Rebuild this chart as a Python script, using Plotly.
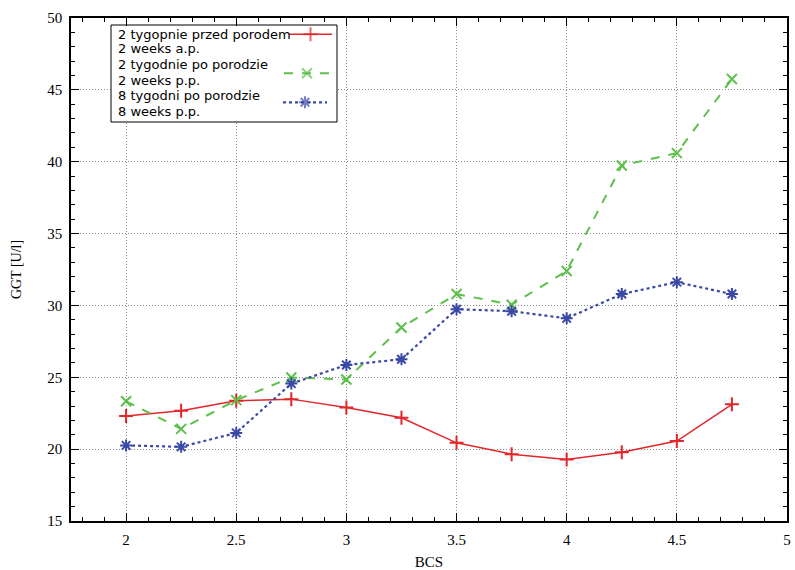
import plotly.graph_objects as go

# ---- data ----
bcs = [2, 2.25, 2.5, 2.75, 3, 3.25, 3.5, 3.75, 4, 4.25, 4.5, 4.75]
ggt_2w_ap = [22.3, 22.67, 23.36, 23.48, 22.9, 22.18, 20.44, 19.65, 19.28, 19.79, 20.56, 23.12]
ggt_2w_pp = [23.33, 21.41, 23.41, 24.99, 24.85, 28.47, 30.79, 30.05, 32.4, 39.74, 40.6, 45.76]
ggt_8w_pp = [20.26, 20.16, 21.13, 24.56, 25.86, 26.25, 29.74, 29.6, 29.1, 30.79, 31.62, 30.79]

labels = [
    ["2 tygopnie przed porodem", "2 weeks a.p."],
    ["2 tygodnie po porodzie", "2 weeks p.p."],
    ["8 tygodni po porodzie", "8 weeks p.p."],
]

RED = "#e3262b"
GREEN = "#5cc04a"
BLUE = "#3a48a6"

W, H = 795, 570
ML, MR, MT, MB = 71, 8, 18, 49
PW, PH = W - ML - MR, H - MT - MB


def px(x):
    return (x - ML) / PW


def py(y):
    return (H - MB - y) / PH


series = [
    (ggt_2w_ap, RED, "solid", "cross-thin-open", 10, 1.5),
    (ggt_2w_pp, GREEN, "dash", "x-thin-open", 10, 2.0),
    (ggt_8w_pp, BLUE, "dot", "asterisk-open", 10, 2.2),
]

fig = go.Figure()
for vals, col, dash, sym, ms, lw in series:
    fig.add_trace(go.Scatter(
        x=bcs, y=vals, mode="lines+markers",
        line=dict(color=col, width=lw, dash=dash),
        marker=dict(symbol=sym, size=ms, color=col, line=dict(color=col, width=2)),
        showlegend=False, cliponaxis=False,
    ))

# ---- custom legend (gnuplot style: text left, sample right), in an overlay subplot ----
bx0, bx1, by0, by1 = px(111), px(337), py(122), py(25)
fig.add_trace(go.Scatter(
    x=[bx0, bx1, bx1, bx0, bx0], y=[by0, by0, by1, by1, by0],
    xaxis="x2", yaxis="y2", mode="lines", fill="toself", fillcolor="white",
    line=dict(color="black", width=1), showlegend=False, hoverinfo="skip",
))

line_ys = [34.3, 48.6, 65, 80.3, 96, 111.5]
flat = [t for pair in labels for t in pair]
for t, yy in zip(flat, line_ys):
    fig.add_annotation(x=px(116), y=py(yy), xref="paper", yref="paper",
                       text=t, showarrow=False, xanchor="left", yanchor="middle",
                       font=dict(family="DejaVu Sans", size=13, color="black"))

sample_rows = [(289, 332, 34.3), (284, 330, 73.3), (283, 327, 102.3)]
for (vals, col, dash, sym, ms, lw), (xa, xb, yy) in zip(series, sample_rows):
    fig.add_trace(go.Scatter(
        x=[px(xa), px((xa + xb) / 2), px(xb)], y=[py(yy)] * 3,
        xaxis="x2", yaxis="y2", mode="lines+markers",
        line=dict(color=col, width=lw, dash=dash),
        marker=dict(symbol=sym, size=[0, ms, 0], color=col, line=dict(color=col, width=2)),
        showlegend=False, cliponaxis=False, hoverinfo="skip",
    ))

axis_common = dict(
    showline=True, linecolor="black", linewidth=1.5, mirror="ticks",
    ticks="inside", ticklen=8, tickwidth=1.3, tickcolor="black",
    showgrid=True, gridcolor="#8a8a8a", gridwidth=1, griddash="1px,2px",
    zeroline=False, automargin=False,
    tickfont=dict(family="Liberation Serif", size=15, color="black"),
)

fig.update_layout(
    width=W, height=H,
    margin=dict(l=ML, r=MR, t=MT, b=MB),
    paper_bgcolor="white", plot_bgcolor="white",
    xaxis=dict(range=[1.75, 5], tick0=0, dtick=0.5, ticklabelstandoff=4, **axis_common,
               minor=dict(ticks="inside", ticklen=4, dtick=0.1, tick0=0,
                          tickcolor="black", tickwidth=1.2, showgrid=False),
               title=dict(text="BCS", standoff=12,
                          font=dict(family="Liberation Serif", size=15, color="black"))),
    yaxis=dict(range=[15, 50], tick0=0, dtick=5, ticklabelstandoff=4, **axis_common,
               minor=dict(ticks="inside", ticklen=4, dtick=1, tick0=0,
                          tickcolor="black", tickwidth=1.2, showgrid=False),
               title=dict(text="GGT [U/l]", standoff=22,
                          font=dict(family="Liberation Serif", size=14, color="black"))),
    xaxis2=dict(range=[0, 1], overlaying="x", anchor="y2", visible=False, fixedrange=True),
    yaxis2=dict(range=[0, 1], overlaying="y", anchor="x2", visible=False, fixedrange=True),
)

fig.write_html("out.html")
